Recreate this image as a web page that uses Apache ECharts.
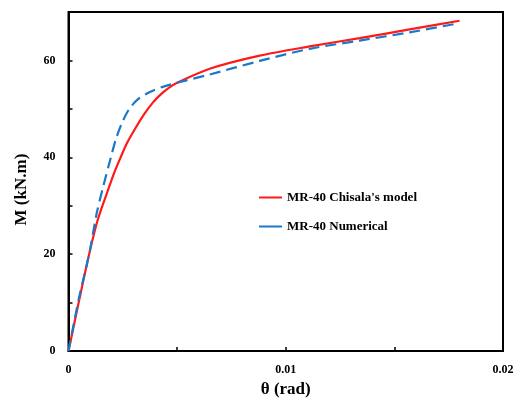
<!DOCTYPE html>
<html>
<head>
<meta charset="utf-8">
<script src="https://cdn.jsdelivr.net/npm/echarts@6/dist/echarts.min.js"></script>
<style>html,body{margin:0;padding:0;background:#fff;}#c{width:520px;height:403px;}</style>
</head>
<body>
<div id="c"></div>
<script>
const seriesNames = ["MR-40 Chisala's model", "MR-40 Numerical"];
const xTitle = "θ (rad)";
const yTitle = "M (kN.m)";

const chisalaTheta = [0, 0.0005, 0.00095, 0.00134, 0.0018, 0.00212, 0.0024, 0.0027, 0.00308, 0.0035, 0.0039, 0.0043, 0.0046, 0.005, 0.0065, 0.0088, 0.0111, 0.0134, 0.0157, 0.018];
const chisalaM     = [0, 10.7, 20, 27, 33, 37, 40, 43, 46, 49, 51.4, 53.2, 54.3, 55.4, 58.3, 61.0, 62.9, 64.6, 66.4, 68.2];

const numTheta = [0, 0.00047, 0.00095, 0.0013, 0.0016, 0.00195, 0.0022, 0.0025, 0.0028, 0.0032, 0.0037, 0.0043, 0.005, 0.0065, 0.0088, 0.0111, 0.0134, 0.0157, 0.018];
const numM     = [0, 10.7, 20, 28.5, 34, 40, 44, 47.5, 50, 52, 53.4, 54.5, 55.4, 57.1, 59.9, 62.4, 64.1, 65.8, 67.7];

const pairs = (xs, ys) => xs.map((x, i) => [x, ys[i]]);
const font = 'Liberation Serif';

const chart = echarts.init(document.getElementById('c'), null, {renderer: 'canvas'});
chart.setOption({
  animation: false,
  backgroundColor: '#fff',
  grid: {left: 68.5, right: 17, top: 12, bottom: 51, show: true, borderColor: '#000', borderWidth: 2, backgroundColor: 'transparent'},
  legend: {
    orient: 'vertical', left: 259, top: 191, padding: 0, itemGap: 16,
    itemWidth: 23, itemHeight: 2,
    icon: 'rect',
    textStyle: {fontFamily: font, fontWeight: 'bold', fontSize: 13, color: '#000'},
    data: seriesNames
  },
  xAxis: {
    type: 'value', min: 0, max: 0.02, interval: 0.01,
    name: xTitle, nameLocation: 'middle', nameGap: 27,
    nameTextStyle: {fontFamily: font, fontWeight: 'bold', fontSize: 17, color: '#000'},
    axisLine: {lineStyle: {color: '#000', width: 2}},
    axisTick: {inside: true, length: 4, lineStyle: {color: '#000', width: 1.5}},
    minorTick: {show: true, splitNumber: 2, length: 4, lineStyle: {color: '#000', width: 1.5}},
    splitLine: {show: false},
    axisLabel: {margin: 13, fontFamily: font, fontWeight: 'bold', fontSize: 12, color: '#000'}
  },
  yAxis: {
    type: 'value', min: 0, max: 70, interval: 20,
    name: yTitle, nameLocation: 'middle', nameGap: 38,
    nameTextStyle: {fontFamily: font, fontWeight: 'bold', fontSize: 17, color: '#000', padding: [0, 16, 0, 0]},
    axisLine: {lineStyle: {color: '#000', width: 2}},
    axisTick: {inside: true, length: 4, lineStyle: {color: '#000', width: 1.5}},
    minorTick: {show: true, splitNumber: 2, length: 4, lineStyle: {color: '#000', width: 1.5}},
    splitLine: {show: false},
    axisLabel: {margin: 13, showMaxLabel: false, fontFamily: font, fontWeight: 'bold', fontSize: 12, color: '#000'}
  },
  series: [
    {
      name: seriesNames[0], type: 'line', smooth: 0.3, showSymbol: false,
      data: pairs(chisalaTheta, chisalaM),
      itemStyle: {color: '#ff1a1a'},
      lineStyle: {color: '#ff1a1a', width: 2.2}
    },
    {
      name: seriesNames[1], type: 'line', smooth: 0.3, showSymbol: false,
      data: pairs(numTheta, numM),
      itemStyle: {color: '#1a78c8'},
      lineStyle: {color: '#1a78c8', width: 2.2, type: [11, 6]}
    }
  ]
});
</script>
</body>
</html>
